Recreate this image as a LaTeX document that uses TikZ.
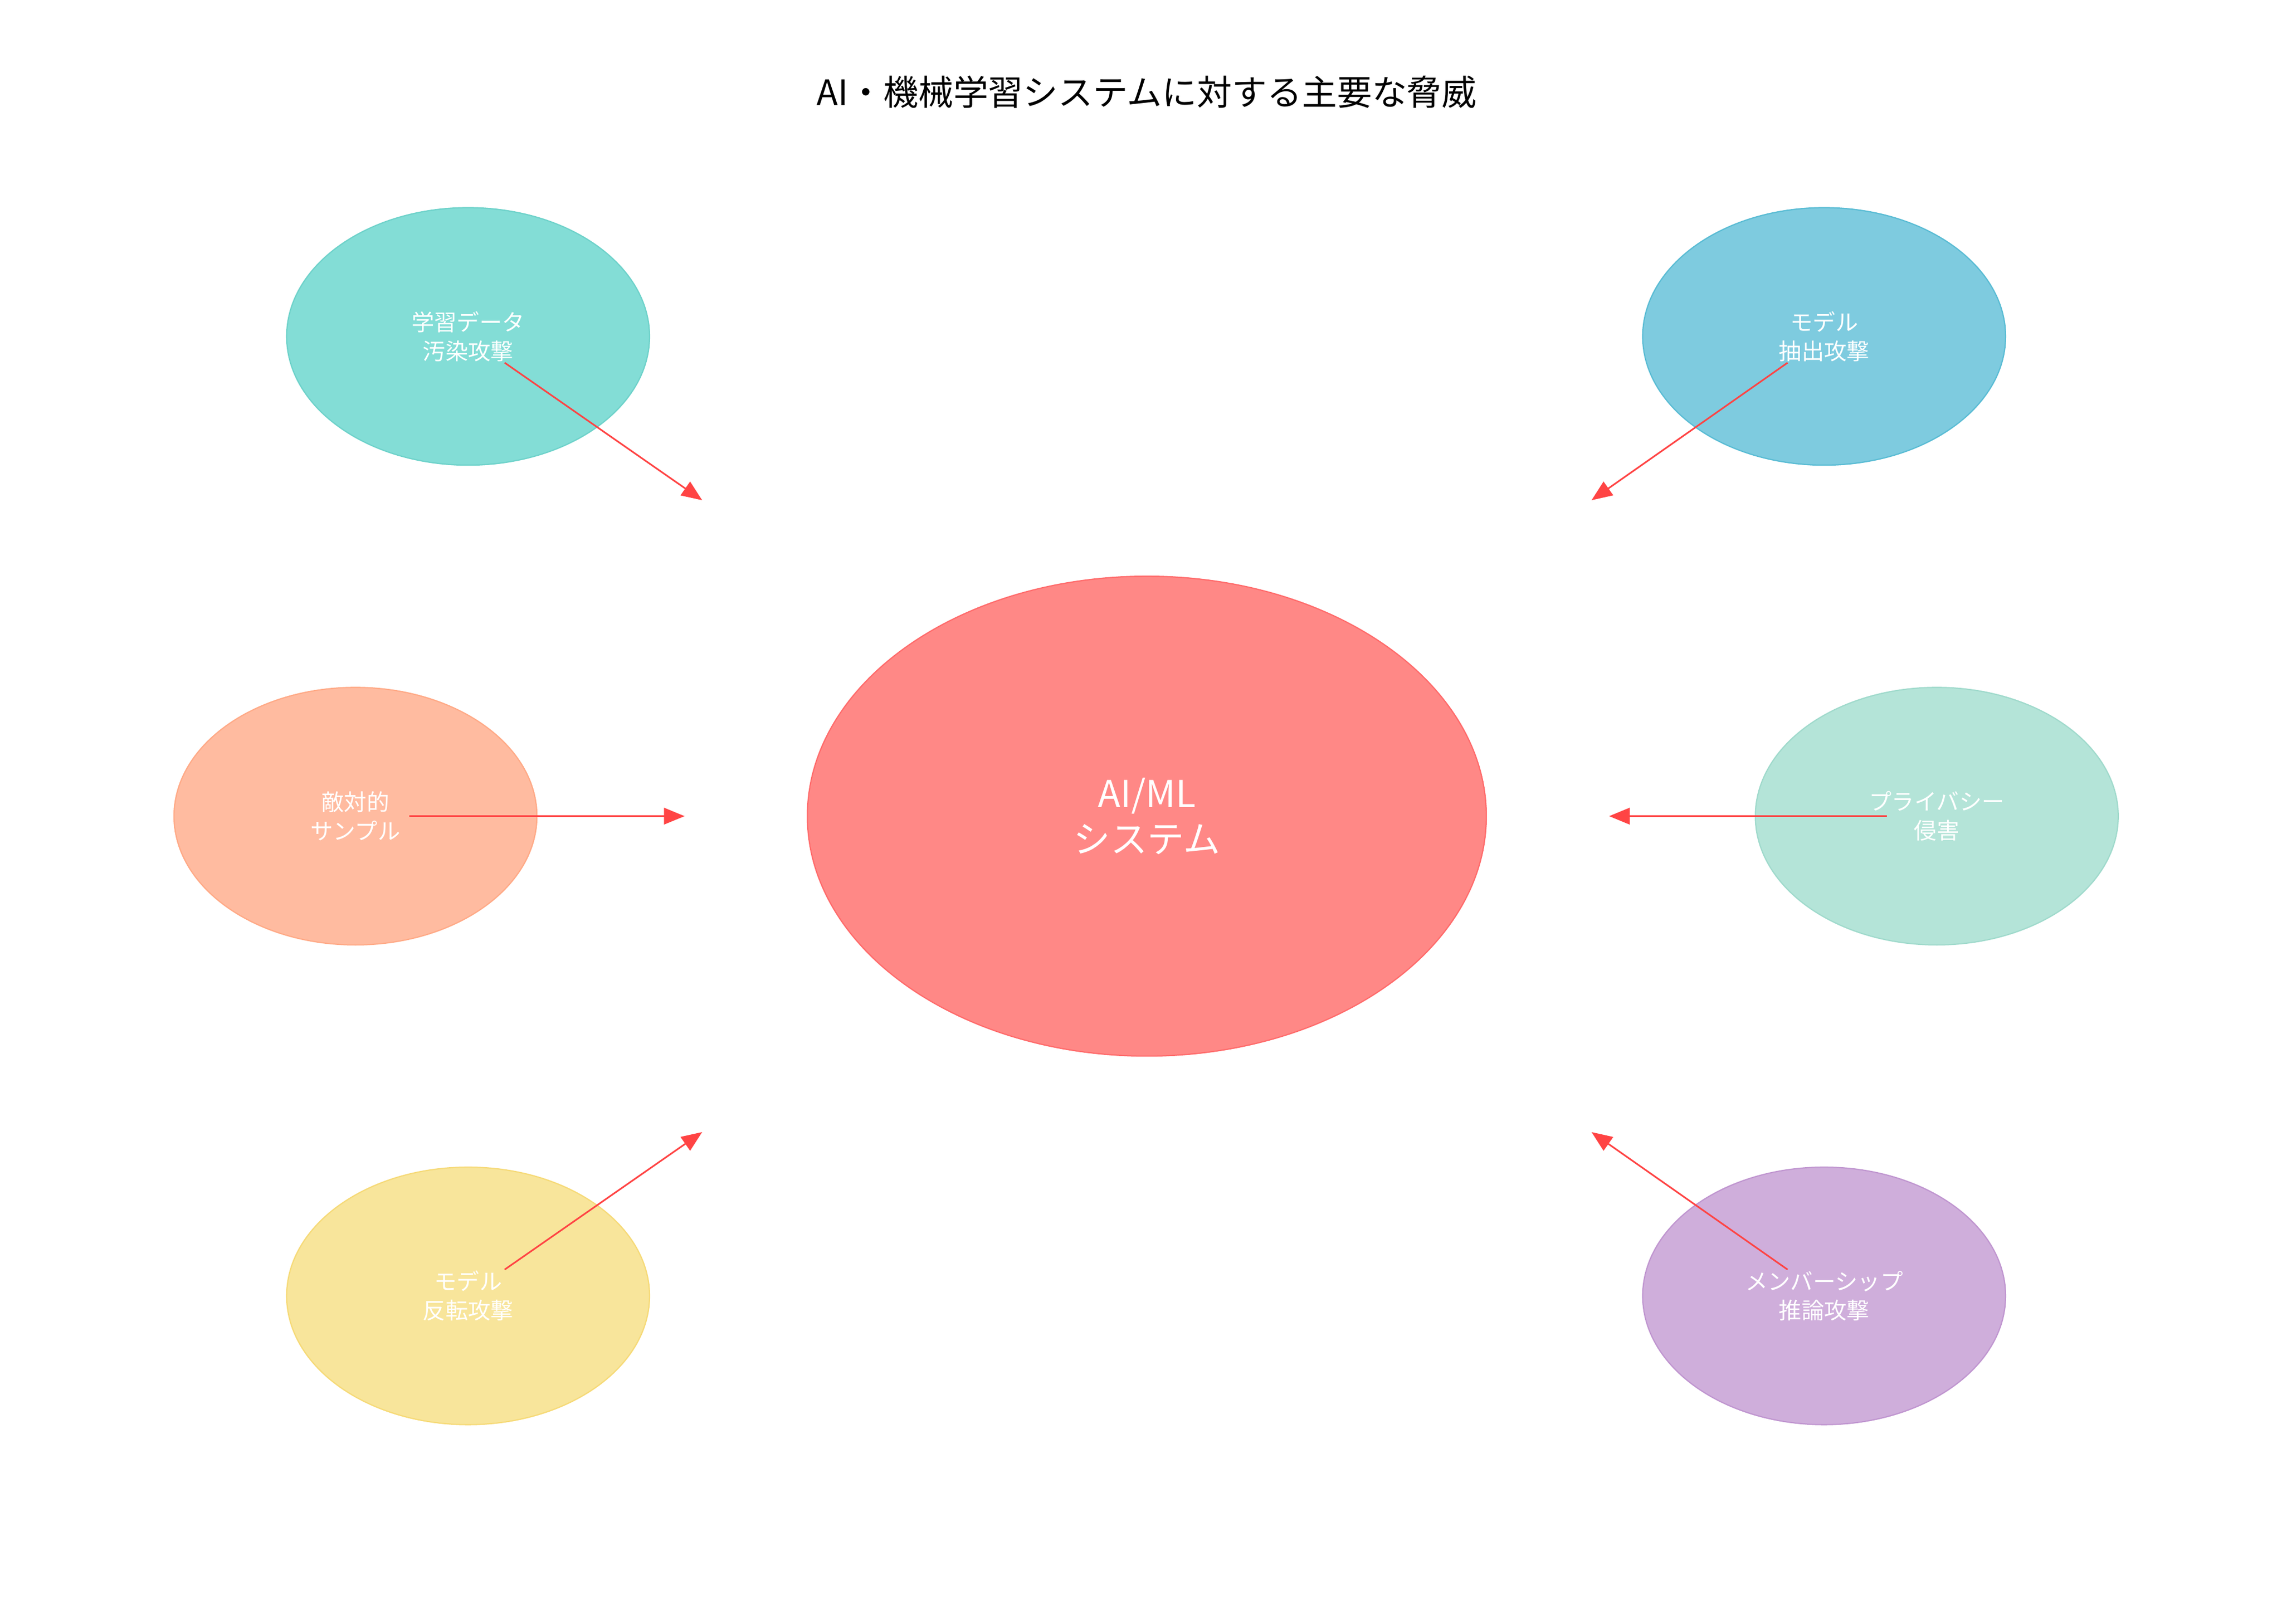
\documentclass[tikz,border=0pt]{standalone}
\usepackage{fontspec}
\setmainfont{Noto Sans CJK JP}
\usetikzlibrary{shapes.geometric,arrows.meta}
\definecolor{coreFill}{HTML}{FF8886}
\definecolor{coreLine}{HTML}{FF6B6B}
\definecolor{arrowRed}{HTML}{FF4444}
\begin{document}
\begin{tikzpicture}[x=0.025cm,y=-0.025cm,
    threat/.style={ellipse,minimum width=6.2cm,minimum height=4.4cm,text=white,
      font=\fontsize{11}{14}\selectfont,align=center,line width=0.6pt},
    attack/.style={-{Triangle[length=10pt,width=8pt]},arrowRed,line width=0.8pt}]
    \useasboundingbox (0,0) rectangle (1560,1110);
    \node[font=\fontsize{17}{20}\selectfont] (title) at (784,63) {AI・機械学習システムに対する主要な脅威};
    \node[ellipse,minimum width=11.6cm,minimum height=8.2cm,fill=coreFill,draw=coreLine,
      text=white,align=center,font=\fontsize{18}{22}\selectfont,line width=0.6pt] (core) at (784,558) {AI/ML\\システム};
    % threats
    \node[threat,fill=cyan!10!teal!0!white,fill={rgb,255:red,131;green,221;blue,214},draw={rgb,255:red,110;green,210;blue,202}] (poison) at (320,230) {学習データ\\汚染攻撃};
    \node[threat,fill={rgb,255:red,126;green,203;blue,223},draw={rgb,255:red,90;green,188;blue,212}] (extract) at (1247,230) {モデル\\抽出攻撃};
    \node[threat,fill={rgb,255:red,255;green,187;blue,160},draw={rgb,255:red,255;green,170;blue,135}] (adversarial) at (243,558) {敵対的\\サンプル};
    \node[threat,fill={rgb,255:red,180;green,228;blue,216},draw={rgb,255:red,160;green,218;blue,204}] (privacy) at (1324,558) {プライバシー\\侵害};
    \node[threat,fill={rgb,255:red,248;green,229;blue,155},draw={rgb,255:red,246;green,218;blue,120}] (inversion) at (320,886) {モデル\\反転攻撃};
    \node[threat,fill={rgb,255:red,207;green,174;blue,219},draw={rgb,255:red,192;green,150;blue,208}] (membership) at (1247,886) {メンバーシップ\\推論攻撃};
    % arrow ends
    \coordinate (p1) at (345,248); \coordinate (q1) at (480,342);
    \coordinate (p2) at (1222,248); \coordinate (q2) at (1088,342);
    \coordinate (p3) at (280,558); \coordinate (q3) at (468,558);
    \coordinate (p4) at (1290,558); \coordinate (q4) at (1100,558);
    \coordinate (p5) at (345,868); \coordinate (q5) at (480,774);
    \coordinate (p6) at (1222,868); \coordinate (q6) at (1088,774);
    \foreach \i in {1,...,6}
      \draw[attack] (p\i) -- (q\i);
\end{tikzpicture}
\end{document}
